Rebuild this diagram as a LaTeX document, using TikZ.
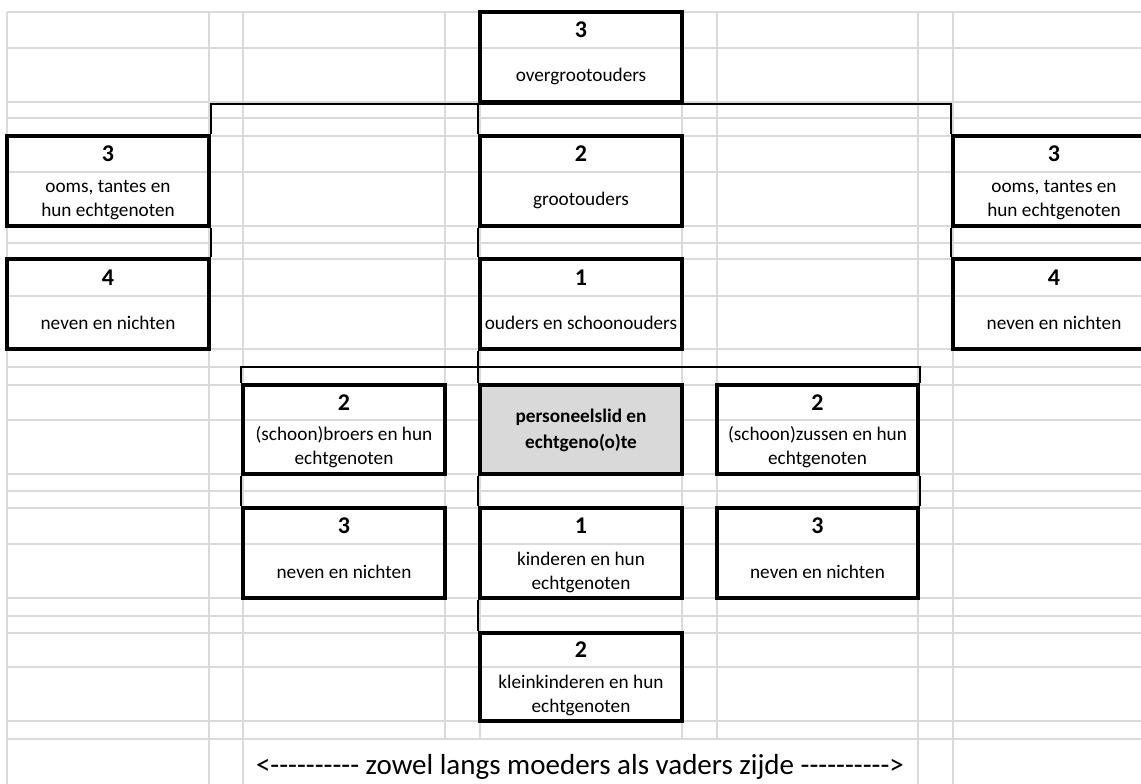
\documentclass[tikz,border=0pt]{standalone}
\usepackage{fontspec}
\setmainfont{Carlito}[Ligatures=TeXOff]
\definecolor{gridgray}{RGB}{218,218,218}
\definecolor{selfgray}{RGB}{217,217,217}
\begin{document}
\begin{tikzpicture}[x=1pt,y=-1pt,
  gridline/.style={draw=gridgray,line width=1.8pt},
  box/.style={draw=black,line width=3.2pt,minimum width=202pt,minimum height=90pt,inner sep=0pt},
  link/.style={draw=black,line width=2pt},
  num/.style={font=\fontsize{24}{28}\selectfont\bfseries,inner sep=0pt},
  lab/.style={font=\fontsize{19.25}{24}\selectfont,align=center,inner sep=0pt},
  selflab/.style={font=\fontsize{19.25}{26}\selectfont\bfseries,align=center,inner sep=0pt},
]
\useasboundingbox (0,0) rectangle (1141,784);
\fill[white] (0,0) rectangle (1141,784);
% grid
\foreach \y in {12,48,102,118,136,172,226,243,259,296,349,367,385,420,474,491,508,544,598,616,633,667,721,739}
  \draw[gridline] (7,\y) -- (1141,\y);
\foreach \x in {7,209,243,445,480,682,717,918,953}
  \draw[gridline] (\x,12) -- (\x,739);
\foreach \x in {7,209,243,918,953}
  \draw[gridline] (\x,739) -- (\x,784);
% boxes
\node[box] (og) at (581,57) {};
\node[box] (go) at (581,181) {};
\node[box] (ou) at (581,304) {};
\node[box,fill=selfgray,minimum height=89pt] (pl) at (581,429.5) {};
\node[box] (ki) at (581,553) {};
\node[box,minimum height=88pt] (kk) at (581,677) {};
\node[box] (ooL) at (108,181) {};
\node[box] (nvL) at (108,304) {};
\node[box] (ooR) at (1054,181) {};
\node[box] (nvR) at (1054,304) {};
\node[box,minimum height=89pt] (br) at (344,429.5) {};
\node[box] (nbL) at (344,553) {};
\node[box,minimum width=201pt,minimum height=89pt] (zu) at (817.5,429.5) {};
\node[box,minimum width=201pt] (nbR) at (817.5,553) {};
% texts
\node[num] (og-n) at (581,30) {3};
\node[lab] (og-t) at (581,76) {overgrootouders};
\node[num] (go-n) at (581,154) {2};
\node[lab] (go-t) at (581,200) {grootouders};
\node[num] (ou-n) at (581,277.5) {1};
\node[lab] (ou-t) at (581,323) {ouders en schoonouders};
\node[selflab] (pl-t) at (581,430) {personeelslid en\\echtgeno(o)te};
\node[num] (ki-n) at (581,526) {1};
\node[lab] (ki-t) at (581,572) {kinderen en hun\\echtgenoten};
\node[num] (kk-n) at (581,650) {2};
\node[lab] (kk-t) at (581,695) {kleinkinderen en hun\\echtgenoten};
\node[num] (ooL-n) at (108,154) {3};
\node[lab] (ooL-t) at (108,200) {ooms, tantes en\\hun echtgenoten};
\node[num] (nvL-n) at (108,277.5) {4};
\node[lab] (nvL-t) at (108,323) {neven en nichten};
\node[num] (ooR-n) at (1054,154) {3};
\node[lab] (ooR-t) at (1054,200) {ooms, tantes en\\hun echtgenoten};
\node[num] (nvR-n) at (1054,277.5) {4};
\node[lab] (nvR-t) at (1054,323) {neven en nichten};
\node[num] (br-n) at (344,403) {2};
\node[lab] (br-t) at (344,447) {(schoon)broers en hun\\echtgenoten};
\node[num] (nbL-n) at (344,526) {3};
\node[lab] (nbL-t) at (344,572) {neven en nichten};
\node[num] (zu-n) at (817.5,403) {2};
\node[lab] (zu-t) at (817.5,447) {(schoon)zussen en hun\\echtgenoten};
\node[num] (nbR-n) at (817.5,526) {3};
\node[lab] (nbR-t) at (817.5,572) {neven en nichten};
\node[font=\fontsize{29}{34}\selectfont,inner sep=0pt] (side) at (580,767) {<---------- zowel langs moeders als vaders zijde ---------->};
% connectors
\coordinate (sibbar) at (581,367);
\draw[link] (ooL.north east) |- (og.south west) -| (ooR.north west);
\draw[link] (og.south west) -- (go.north west);
\draw[link] (go.south west) -- (ou.north west);
\draw[link] (ooL.south east) -- (nvL.north east);
\draw[link] (ooR.south west) -- (nvR.north west);
\draw[link] (ou.south west) -- (pl.north west);
\draw[link] (br.north west) |- (sibbar) -| (zu.north east);
\draw[link] (pl.south west) -- (ki.north west);
\draw[link] (ki.south west) -- (kk.north west);
\draw[link] (br.south west) -- (nbL.north west);
\draw[link] (zu.south east) -- (nbR.north east);
\end{tikzpicture}
\end{document}
